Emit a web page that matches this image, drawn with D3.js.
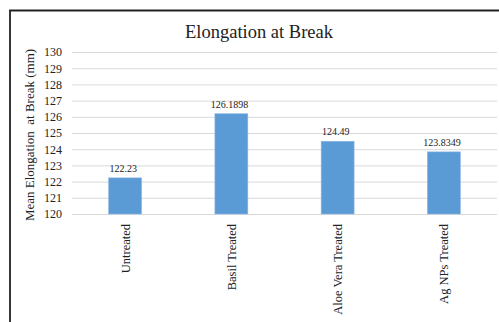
<!DOCTYPE html>
<html>
<head>
<meta charset="utf-8">
<script src="https://cdn.jsdelivr.net/npm/d3@7"></script>
<style>
  html, body { margin: 0; padding: 0; background: #fff; }
  svg { display: block; }
  text { font-family: "Liberation Serif", "Times New Roman", serif; fill: #222; }
</style>
</head>
<body>
<script>
const categories = ["Untreated", "Basil Treated", "Aloe Vera Treated", "Ag NPs Treated"];
const values = [122.23, 126.1898, 124.49, 123.8349];
const valueLabels = ["122.23", "126.1898", "124.49", "123.8349"];
const yTicks = [120, 121, 122, 123, 124, 125, 126, 127, 128, 129, 130];
const chartTitle = "Elongation at Break";
const yTitle = "Mean Elongation  at Break (mm)";

const W = 499, H = 322;
const svg = d3.select("body").append("svg").attr("width", W).attr("height", H);

svg.append("rect").attr("width", W).attr("height", H).attr("fill", "#fff");

// frame
svg.append("path")
  .attr("d", "M10,330 L10,10.5 L510,10.5")
  .attr("fill", "none").attr("stroke", "#222").attr("stroke-width", 1.8);

const x = d3.scaleBand().domain(categories).range([72, 497]).paddingInner(0.69).paddingOuter(0.345);
const y = d3.scaleLinear().domain([120, 130]).range([214, 52]);

// gridlines
svg.append("g").selectAll("line").data(yTicks).join("line")
  .attr("x1", 72).attr("x2", 497)
  .attr("y1", d => y(d) + 0.5).attr("y2", d => y(d) + 0.5)
  .attr("stroke", "#d9d9d9").attr("stroke-width", 1);

// y axis tick labels
const yAxis = d3.axisLeft(y).tickValues(yTicks).tickSize(0).tickPadding(0).tickFormat(d3.format("d"));
const gy = svg.append("g").attr("transform", "translate(62,0)").call(yAxis);
gy.select(".domain").remove();
gy.selectAll("text").attr("font-size", "12px").attr("fill", "#222")
  .style("font-family", "'Liberation Serif', serif");

// bars
svg.append("g").selectAll("rect").data(values).join("rect")
  .attr("x", (d, i) => x(categories[i]))
  .attr("y", d => y(d))
  .attr("width", x.bandwidth())
  .attr("height", d => y(120) - y(d))
  .attr("fill", "#5b9bd5")
  .attr("stroke", "#8db8e3").attr("stroke-width", 0.6);

// value labels
svg.append("g").selectAll("text").data(values).join("text")
  .attr("x", (d, i) => x(categories[i]) + x.bandwidth() / 2 - 2)
  .attr("y", d => y(d) - 6)
  .attr("text-anchor", "middle")
  .attr("font-size", "10px")
  .text((d, i) => valueLabels[i]);

// x labels
const xAxis = d3.axisBottom(x).tickSize(0).tickPadding(0);
const gx = svg.append("g").attr("transform", "translate(0,214)").call(xAxis);
gx.select(".domain").remove();
gx.selectAll("text")
  .attr("font-size", "12.5px").attr("fill", "#222")
  .style("font-family", "'Liberation Serif', serif")
  .attr("text-anchor", "end")
  .attr("transform", "translate(0,10) rotate(-90)")
  .attr("x", 0).attr("y", 0).attr("dy", "0.35em");

// title
svg.append("text")
  .attr("x", 259).attr("y", 37.5)
  .attr("text-anchor", "middle")
  .attr("font-size", "18.5px")
  .text(chartTitle);

// y title
svg.append("text")
  .attr("transform", "translate(34,135) rotate(-90)")
  .attr("text-anchor", "middle")
  .attr("font-size", "13px")
  .style("white-space", "pre")
  .text(yTitle);
</script>
</body>
</html>
